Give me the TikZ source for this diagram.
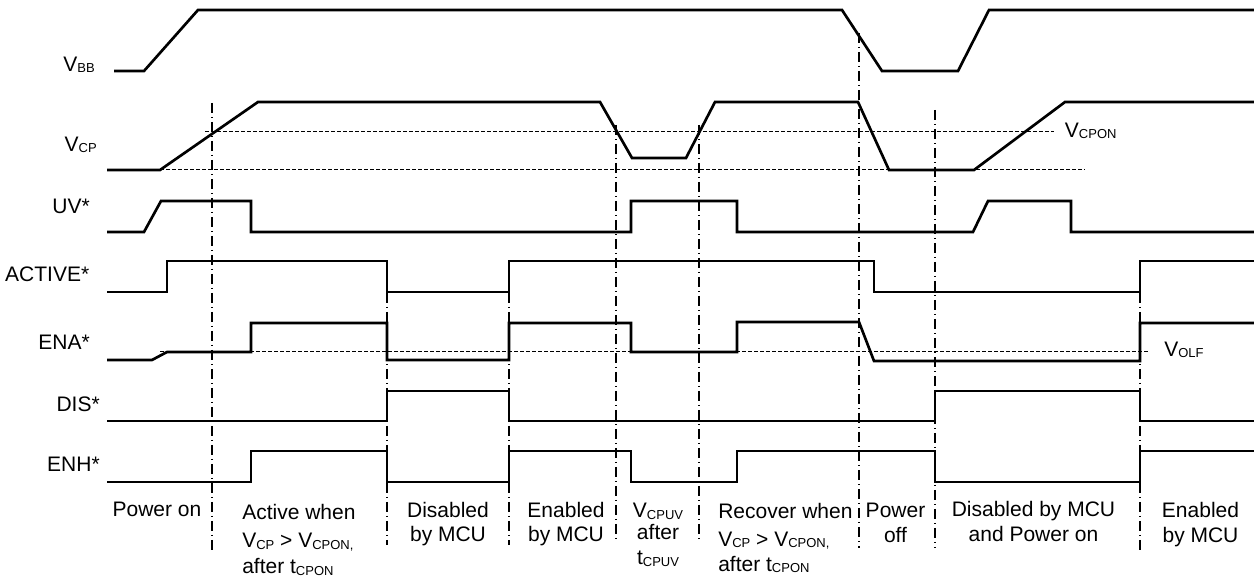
\documentclass[tikz,border=0pt]{standalone}
\usepackage{fontspec}
\setmainfont{Liberation Sans}
\newcommand{\ssb}[1]{\raisebox{-0.8pt}{\fontsize{9.75pt}{10pt}\selectfont #1}}
\tikzset{
  sig/.style={line width=2pt, line join=miter},
  thr/.style={line width=0.75pt, dash pattern=on 3pt off 1.5pt},
  cut/.style={line width=0.9pt, dash pattern=on 7.5pt off 3pt on 0.75pt off 3pt},
  lbl/.style={inner sep=0pt, font=\fontsize{15.75pt}{18pt}\selectfont},
}
\begin{document}
\begin{tikzpicture}[x=0.75pt,y=-0.75pt]
\useasboundingbox (0,0) rectangle (1254,580);
% phase cut lines
\draw[cut] (212,103) -- (212,553);
\draw[cut] (387,293) -- (387,545);
\draw[cut] (509,293) -- (509,545);
\draw[cut] (616,125) -- (616,543);
\draw[cut] (699,125) -- (699,543);
\draw[cut] (859,33) -- (859,548);
\draw[cut] (935,110) -- (935,548);
\draw[cut] (1140,293) -- (1140,553);
% threshold lines
\draw[thr] (205,132) -- (1054,132);
\draw[thr] (160,170) -- (1085,170);
\draw[thr] (160,352) -- (1150,352);
% signals
\draw[sig] (114,71) -- (144,71) -- (198,10) -- (842,10) -- (882,71) -- (958,71) -- (989,10) -- (1254,10);
\draw[sig] (107,170) -- (160,170) -- (258,102) -- (600,102) -- (632,158) -- (686,158) -- (715,102) -- (858,102) -- (889,170) -- (974,170) -- (1065,102) -- (1254,102);
\draw[sig] (107,232) -- (144,232) -- (161,201) -- (251,201) -- (251,232) -- (631,232) -- (631,201) -- (737,201) -- (737,232) -- (973,232) -- (988,201) -- (1071,201) -- (1071,232) -- (1254,232);
\draw[sig] (107,292) -- (167,292) -- (167,261) -- (387,261) -- (387,292) -- (509,292) -- (509,261) -- (874,261) -- (874,292) -- (1140,292) -- (1140,261) -- (1254,261);
\draw[sig] (107,360) -- (152,360) -- (167,352) -- (251,352) -- (251,323) -- (387,323) -- (387,360) -- (509,360) -- (509,323) -- (631,323) -- (631,352) -- (737,352) -- (737,322) -- (859,322) -- (874,361) -- (1140,361) -- (1140,323) -- (1254,323);
\draw[sig] (107,421) -- (387,421) -- (387,391) -- (509,391) -- (509,421) -- (935,421) -- (935,391) -- (1140,391) -- (1140,421) -- (1254,421);
\draw[sig] (107,482) -- (251,482) -- (251,451) -- (387,451) -- (387,482) -- (509,482) -- (509,451) -- (631,451) -- (631,482) -- (737,482) -- (737,451) -- (935,451) -- (935,482) -- (1140,482) -- (1140,451) -- (1254,451);
% signal names
\node[lbl, anchor=base east] (nVBB) at (95,71.7) {V\ssb{BB}};
\node[lbl, anchor=base east] (nVCP) at (97,151.7) {V\ssb{CP}};
\node[lbl, anchor=base east] (nUV) at (90,213.3) {UV*};
\node[lbl, anchor=base east] (nACT) at (89.5,281.7) {ACTIVE*};
\node[lbl, anchor=base east] (nENA) at (90,349.3) {ENA*};
\node[lbl, anchor=base east] (nDIS) at (100,411.7) {DIS*};
\node[lbl, anchor=base east] (nENH) at (100,471.7) {ENH*};
% threshold names
\node[lbl, anchor=base west] (tCPON) at (1064.7,137.3) {V\ssb{CPON}};
\node[lbl, anchor=base west] (tOLF) at (1164,356.7) {V\ssb{OLF}};
% phase labels
\node[lbl, anchor=base] (p1) at (157,516.7) {Power on};
\node[lbl, anchor=base west] (p2a) at (242,520) {Active when};
\node[lbl, anchor=base west] (p2b) at (242,548) {V\ssb{CP} > V\ssb{CPON,}};
\node[lbl, anchor=base west] (p2c) at (242,574) {after t\ssb{CPON}};
\node[lbl, anchor=base] (p3a) at (448,517.7) {Disabled};
\node[lbl, anchor=base] (p3b) at (448,541.7) {by MCU};
\node[lbl, anchor=base] (p4a) at (566,517.7) {Enabled};
\node[lbl, anchor=base] (p4b) at (566,541.7) {by MCU};
\node[lbl, anchor=base] (p5a) at (658,518) {V\ssb{CPUV}};
\node[lbl, anchor=base] (p5b) at (658,540) {after};
\node[lbl, anchor=base] (p5c) at (658,565) {t\ssb{CPUV}};
\node[lbl, anchor=base west] (p6a) at (718,518.3) {Recover when};
\node[lbl, anchor=base west] (p6b) at (718,546.7) {V\ssb{CP} > V\ssb{CPON,}};
\node[lbl, anchor=base west] (p6c) at (718,571.7) {after t\ssb{CPON}};
\node[lbl, anchor=base] (p7a) at (895.5,518) {Power};
\node[lbl, anchor=base] (p7b) at (895.5,543) {off};
\node[lbl, anchor=base] (p8a) at (1033.5,516.7) {Disabled by MCU};
\node[lbl, anchor=base] (p8b) at (1033.5,541.7) {and Power on};
\node[lbl, anchor=base] (p9a) at (1200.5,518) {Enabled};
\node[lbl, anchor=base] (p9b) at (1200.5,543) {by MCU};
\end{tikzpicture}
\end{document}
